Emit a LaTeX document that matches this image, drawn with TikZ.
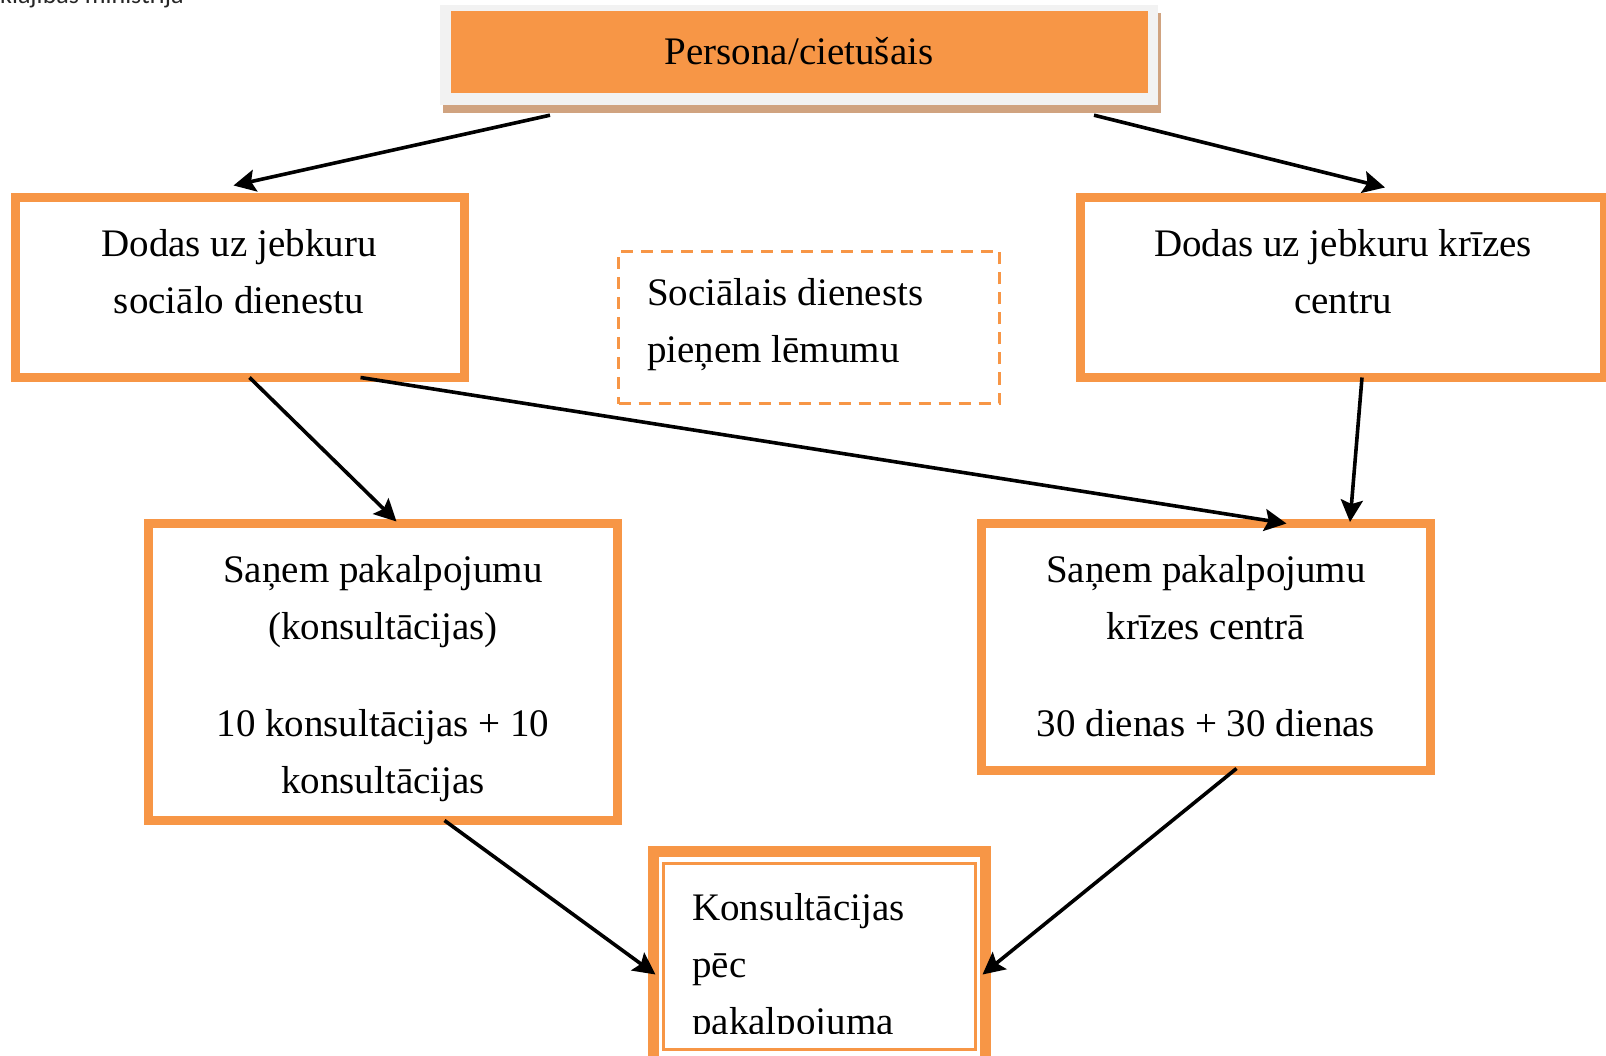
\documentclass[tikz,border=0pt]{standalone}
\usepackage{fontspec}
\setmainfont{Liberation Serif}
\newfontfamily\hdrfont{Carlito}
\usetikzlibrary{arrows.meta,calc}
\definecolor{accorange}{HTML}{F79646}
\definecolor{framegray}{HTML}{F2F2F2}
\definecolor{tanshadow}{HTML}{D0A380}
\tikzset{
  box/.style={draw=accorange, line width=9pt, rectangle, inner sep=0pt, fill=white},
  dbox/.style={draw=accorange, line width=3pt, dash pattern=on 12pt off 8pt, rectangle, inner sep=0pt},
  txt/.style={inner sep=0pt, font=\fontsize{39}{57}\selectfont},
  arr/.style={draw=black, line width=3.6pt, -{Stealth[length=22pt,width=22pt,inset=4pt]}},
}
\begin{document}
\begin{tikzpicture}[x=1pt,y=-1pt]
\useasboundingbox (0,0) rectangle (1606,1056);
\clip (0,0) rectangle (1606,1056);
% header fragment
\node[inner sep=0pt, anchor=base west, font=\hdrfont\fontsize{26}{30}\selectfont, text=black!85] (hdr) at (-37,4) {Labklājības ministrija};
% top box
\node[rectangle, fill=tanshadow, minimum width=718pt, minimum height=100pt, inner sep=0pt] (topshadow) at (802,63) {};
\node[rectangle, fill=framegray, minimum width=718pt, minimum height=100pt, inner sep=0pt] (top) at (799,55) {};
\node[rectangle, fill=accorange, minimum width=697pt, minimum height=82pt, inner sep=0pt] (topfill) at (799.5,52) {};
\node[txt, anchor=base] (toptxt) at (799,65) {Persona/cietušais};
% boxes
\node[box, minimum width=449pt, minimum height=180pt] (leftbox) at (239.5,288) {};
\node[txt, anchor=north, align=center] (lefttxt) at (239,216.1) {\strut Dodas uz jebkuru\\sociālo dienestu};
\node[box, minimum width=524pt, minimum height=180pt] (rightbox) at (1342,288) {};
\node[txt, anchor=north, align=center] (righttxt) at (1343,216.1) {\strut Dodas uz jebkuru krīzes\\centru};
\node[dbox, minimum width=381pt, minimum height=152pt] (decision) at (809,327.5) {};
\node[txt, anchor=north west, align=left] (dectxt) at (647,265.1) {\strut Sociālais dienests\\pieņem lēmumu};
\node[box, minimum width=469pt, minimum height=297pt] (midleft) at (382.5,671.5) {};
\node[txt, anchor=north, align=center] (midlefttxt) at (383,542.1) {\strut Saņem pakalpojumu\\(konsultācijas)\\[40pt]10 konsultācijas + 10\\konsultācijas};
\node[box, minimum width=449pt, minimum height=247pt] (midright) at (1205.5,646.5) {};
\node[txt, anchor=north, align=center] (midrighttxt) at (1206,542.1) {\strut Saņem pakalpojumu\\krīzes centrā\\[40pt]30 dienas + 30 dienas};
% bottom box (double frame)
\node[box, line width=11pt, minimum width=332pt, minimum height=211pt] (bottom) at (819,956.5) {};
\node[draw=accorange, line width=3pt, rectangle, inner sep=0pt, minimum width=312pt, minimum height=186pt] (bottominner) at (819,956) {};
\begin{scope}
\clip (665,865) rectangle (973,1033);
\node[txt, anchor=north west, align=left] (bottomtxt) at (692,880.1) {\strut Konsultācijas\\pēc\\pakalpojuma};
\end{scope}
% arrows
\draw[arr] ($(top.south)+(-249,10)$) -- ($(leftbox.north)+(-6,-8)$);
\draw[arr] ($(top.south)+(295,10)$) -- ($(rightbox.north)+(43,-6)$);
\draw[arr] ($(leftbox.south)+(10,-5)$) -- ($(midleft.north)+(14,3)$);
\draw[arr] ($(leftbox.south)+(121,-5)$) -- ($(midright.north)+(81,5)$);
\draw[arr] ($(rightbox.south)+(20,-5)$) -- ($(midright.north)+(144.5,3.5)$);
\draw[arr] ($(midleft.south)+(62,-4)$) -- ($(bottom.west)+(8,18)$);
\draw[arr] ($(midright.south)+(31,-6)$) -- ($(bottom.east)+(-8,18)$);
\end{tikzpicture}
\end{document}
